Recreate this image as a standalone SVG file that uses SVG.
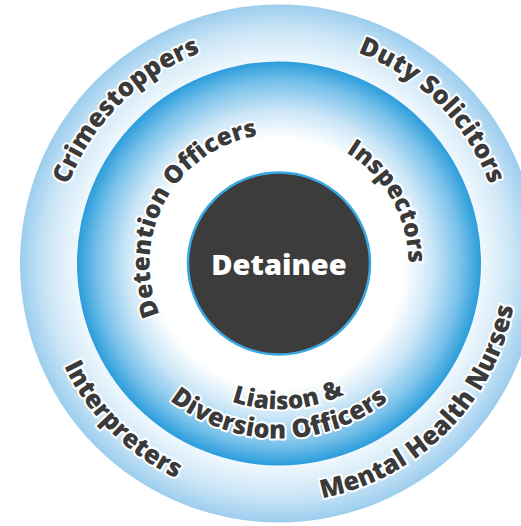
<svg xmlns="http://www.w3.org/2000/svg" xmlns:xlink="http://www.w3.org/1999/xlink" width="521" height="526" viewBox="0 0 521 526">
<style>
.lbl{font-family:"Open Sans","Noto Sans","DejaVu Sans",sans-serif;font-weight:800;font-size:24.5px;fill:#3a3a3a;stroke:#ffffff;stroke-width:4px;stroke-linejoin:round;paint-order:stroke;}
.big{font-size:25.5px;}
.ctr{font-family:"Open Sans","Noto Sans","DejaVu Sans",sans-serif;font-weight:800;font-size:29px;fill:#ffffff;}
</style>
<defs>
<radialGradient id="gOuter" gradientUnits="userSpaceOnUse" cx="279" cy="263.5" r="259">
<stop offset="0.77" stop-color="#f2f9fd"/>
<stop offset="0.9" stop-color="#cce6f7"/>
<stop offset="1" stop-color="#9ccdee"/>
</radialGradient>
<radialGradient id="gMid" gradientUnits="userSpaceOnUse" cx="279" cy="263.5" r="202">
<stop offset="0.62" stop-color="#ffffff"/>
<stop offset="0.76" stop-color="#cbe6f7"/>
<stop offset="0.9" stop-color="#78c1ea"/>
<stop offset="1" stop-color="#2b9ddb"/>
</radialGradient>
<path id="pCrime" d="M119.9,422.6 A225,225 0 0 1 438.1,104.4"/>
<path id="pDuty" d="M119.9,104.4 A225,225 0 0 1 438.1,422.6"/>
<path id="pInterp" d="M108.6,93.1 A241,241 0 0 0 449.4,433.9"/>
<path id="pMental" d="M108.6,433.9 A241,241 0 0 0 449.4,93.1"/>
<path id="pDet" d="M216.8,377.1 A129.5,129.5 0 0 1 341.2,149.9"/>
<path id="pInsp" d="M215.2,150.8 A129.5,129.5 0 0 1 342.8,376.2"/>
<path id="pDiv" d="M104,263.5 A175,175 0 0 0 454,263.5"/>
<path id="pLia" d="M133.3,273.2 A146,146 0 0 0 424.7,253.8"/>
</defs>
<g id="outer-ring">
<circle cx="279" cy="263.5" r="259" fill="url(#gOuter)"/>
</g>
<g id="middle-ring">
<circle cx="279" cy="263.5" r="202" fill="url(#gMid)"/>
</g>
<g id="detainee">
<circle cx="279" cy="263.5" r="91" fill="#3c3c3c" stroke="#3aa8e0" stroke-width="2.5"/>
<text class="ctr" x="279" y="275" text-anchor="middle">Detainee</text>
</g>
<g id="crimestoppers"><text class="lbl big" text-anchor="middle"><textPath xlink:href="#pCrime" startOffset="50%">Crimestoppers</textPath></text></g>
<g id="duty-solicitors"><text class="lbl big" text-anchor="middle"><textPath xlink:href="#pDuty" startOffset="50%">Duty Solicitors</textPath></text></g>
<g id="interpreters"><text class="lbl big" text-anchor="middle"><textPath xlink:href="#pInterp" startOffset="50%">Interpreters</textPath></text></g>
<g id="mental-health-nurses"><text class="lbl big" text-anchor="middle"><textPath xlink:href="#pMental" startOffset="50%">Mental Health Nurses</textPath></text></g>
<g id="detention-officers"><text class="lbl" text-anchor="middle"><textPath xlink:href="#pDet" startOffset="50%">Detention Officers</textPath></text></g>
<g id="inspectors"><text class="lbl" text-anchor="middle"><textPath xlink:href="#pInsp" startOffset="50%">Inspectors</textPath></text></g>
<g id="liaison-diversion-officers">
<text class="lbl" text-anchor="middle"><textPath xlink:href="#pLia" startOffset="50%">Liaison &amp;</textPath></text>
<text class="lbl" text-anchor="middle" style="font-size:25.5px"><textPath xlink:href="#pDiv" startOffset="50%">Diversion Officers</textPath></text>
</g>
</svg>
